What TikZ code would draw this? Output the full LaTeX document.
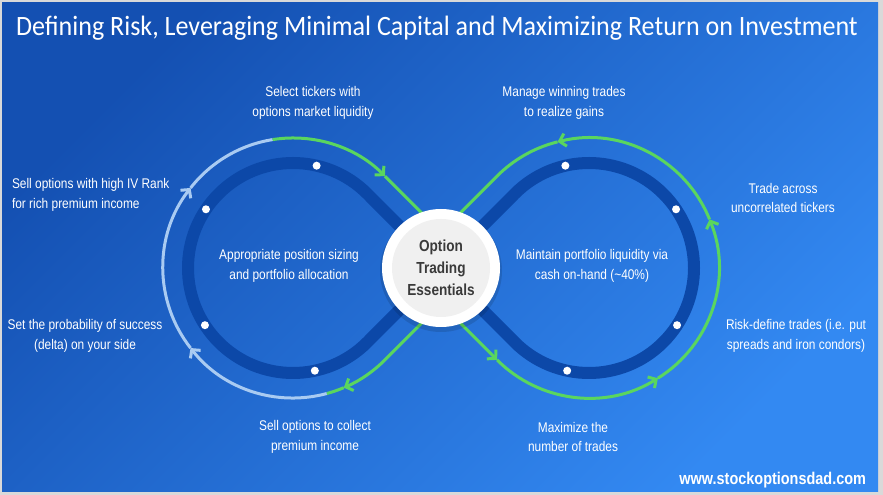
\documentclass[tikz,border=0pt]{standalone}
\usepackage{fontspec}
\setmainfont{Liberation Sans}
\newfontfamily\titlefont{Carlito}
\usepackage{xcolor}
\usetikzlibrary{arrows.meta, calc}
\definecolor{bgdark}{HTML}{1450B2}
\definecolor{bglight}{HTML}{3389F2}
\definecolor{framegray}{HTML}{D9D9D9}
\definecolor{trackblue}{HTML}{0C48A8}
\definecolor{loopgreen}{HTML}{5AD65E}
\definecolor{looppale}{HTML}{A9CBF2}
\definecolor{hubgray}{HTML}{F0F0F0}
\definecolor{hubink}{HTML}{3A3A3A}
\tikzset{
  lbl/.style={text=white, align=center, xscale=0.85, font=\fontsize{14}{19.5}\selectfont},
  greenline/.style={line width=3pt, loopgreen},
  paleline/.style={line width=3pt, looppale},
  tipped/.style={-{Straight Barb[length=6pt,width=13pt]}},
  trackdot/.style={circle, fill=white, inner sep=0pt, minimum size=8pt},
}

\begin{document}
\begin{tikzpicture}[x=1pt,y=1pt]
  \fill[framegray] (0,0) rectangle (883,495);
  \shade[top color=bgdark, bottom color=bglight, shading angle=45] (2,3) rectangle (878,492);

  \coordinate (hubc) at (441,227);
  \coordinate (lc) at (293,227);
  \coordinate (rc) at (589,227);

  \draw[greenline,tipped] ($(lc)+(315:130)+(57,57)$) -- ($(lc)+(315:130)$) arc[start angle=315,end angle=293,radius=130];
  \draw[greenline] ($(lc)+(293:130)$) arc[start angle=293,end angle=285,radius=130];
  \draw[paleline,tipped] ($(lc)+(285:130)$) arc[start angle=285,end angle=218,radius=130];
  \draw[paleline,tipped] ($(lc)+(218:130)$) arc[start angle=218,end angle=142,radius=130];
  \draw[paleline] ($(lc)+(142:130)$) arc[start angle=142,end angle=99,radius=130];
  \draw[greenline,tipped] ($(lc)+(99:130)$) arc[start angle=99,end angle=45,radius=130];
  \draw[greenline] ($(lc)+(45:130)$) -- ++(57,-57);

  \draw[greenline,tipped] ($(rc)+(225:130)+(-57,57)$) -- ($(rc)+(225:130)$);
  \draw[greenline,tipped] ($(rc)+(225:130)$) arc[start angle=225,end angle=302,radius=130];
  \draw[greenline,tipped] ($(rc)+(302:130)$) arc[start angle=302,end angle=382,radius=130];
  \draw[greenline,tipped] ($(rc)+(382:130)$) arc[start angle=382,end angle=464,radius=130];
  \draw[greenline] ($(rc)+(464:130)$) arc[start angle=464,end angle=495,radius=130] -- ++(-57,-57);

  \draw[trackblue, line width=12pt, line join=round] (hubc) -- ($(lc)+(45:105)$) arc[start angle=45,end angle=315,radius=105]
    -- (hubc) -- ($(rc)+(225:105)$) arc[start angle=225,end angle=495,radius=105] -- cycle;

  \foreach \a in {77,146,213,282} \node[trackdot] (ldot\a) at ($(lc)+(\a:105)$) {};
  \foreach \a in {103,34,327,258} \node[trackdot] (rdot\a) at ($(rc)+(\a:105)$) {};

  \node[circle, fill=black, opacity=0.12, minimum size=122pt] (hubshadow) at ($(hubc)+(0,-3)$) {};
  \node[circle, fill=white, minimum size=118pt] (hubring) at (hubc) {};
  \node[circle, fill=hubgray, minimum size=98pt] (hubdisc) at (hubc) {};
  \node[text=hubink, align=center, xscale=0.85, font=\bfseries\fontsize{16}{22}\selectfont] (hub) at (hubc) {Option\\Trading\\Essentials};

  \node[text=white, xscale=0.93, font=\titlefont\fontsize{28}{30}\selectfont] (title) at (437,467)
    {Defining Risk, Leveraging Minimal Capital and Maximizing Return on Investment};

  \node[lbl] (tickers) at (313,392) {Select tickers with\\options market liquidity};
  \node[lbl] (winning) at (564,392) {Manage winning trades\\to realize gains};
  \node[lbl, align=left, anchor=west] (ivrank) at (9,300) {Sell options with high IV Rank\\for rich premium income};
  \node[lbl] (delta) at (85,159) {Set the probability of success\\(delta) on your side};
  \node[lbl] (across) at (783,297) {Trade across\\uncorrelated tickers};
  \node[lbl] (riskdef) at (796,159) {Risk-define trades (i.e. put\\spreads and iron condors)};
  \node[lbl] (maxtrades) at (573,58) {Maximize the\\number of trades};
  \node[lbl] (collect) at (315,58) {Sell options to collect\\premium income};
  \node[lbl] (sizing) at (289,229) {Appropriate position sizing\\and portfolio allocation};
  \node[lbl] (cash) at (592,229) {Maintain portfolio liquidity via\\cash on-hand (\textasciitilde40\%)};
  \node[text=white, xscale=0.85, anchor=east, font=\bfseries\fontsize{17}{20}\selectfont] (site) at (869,15) {www.stockoptionsdad.com};
\end{tikzpicture}
\end{document}
